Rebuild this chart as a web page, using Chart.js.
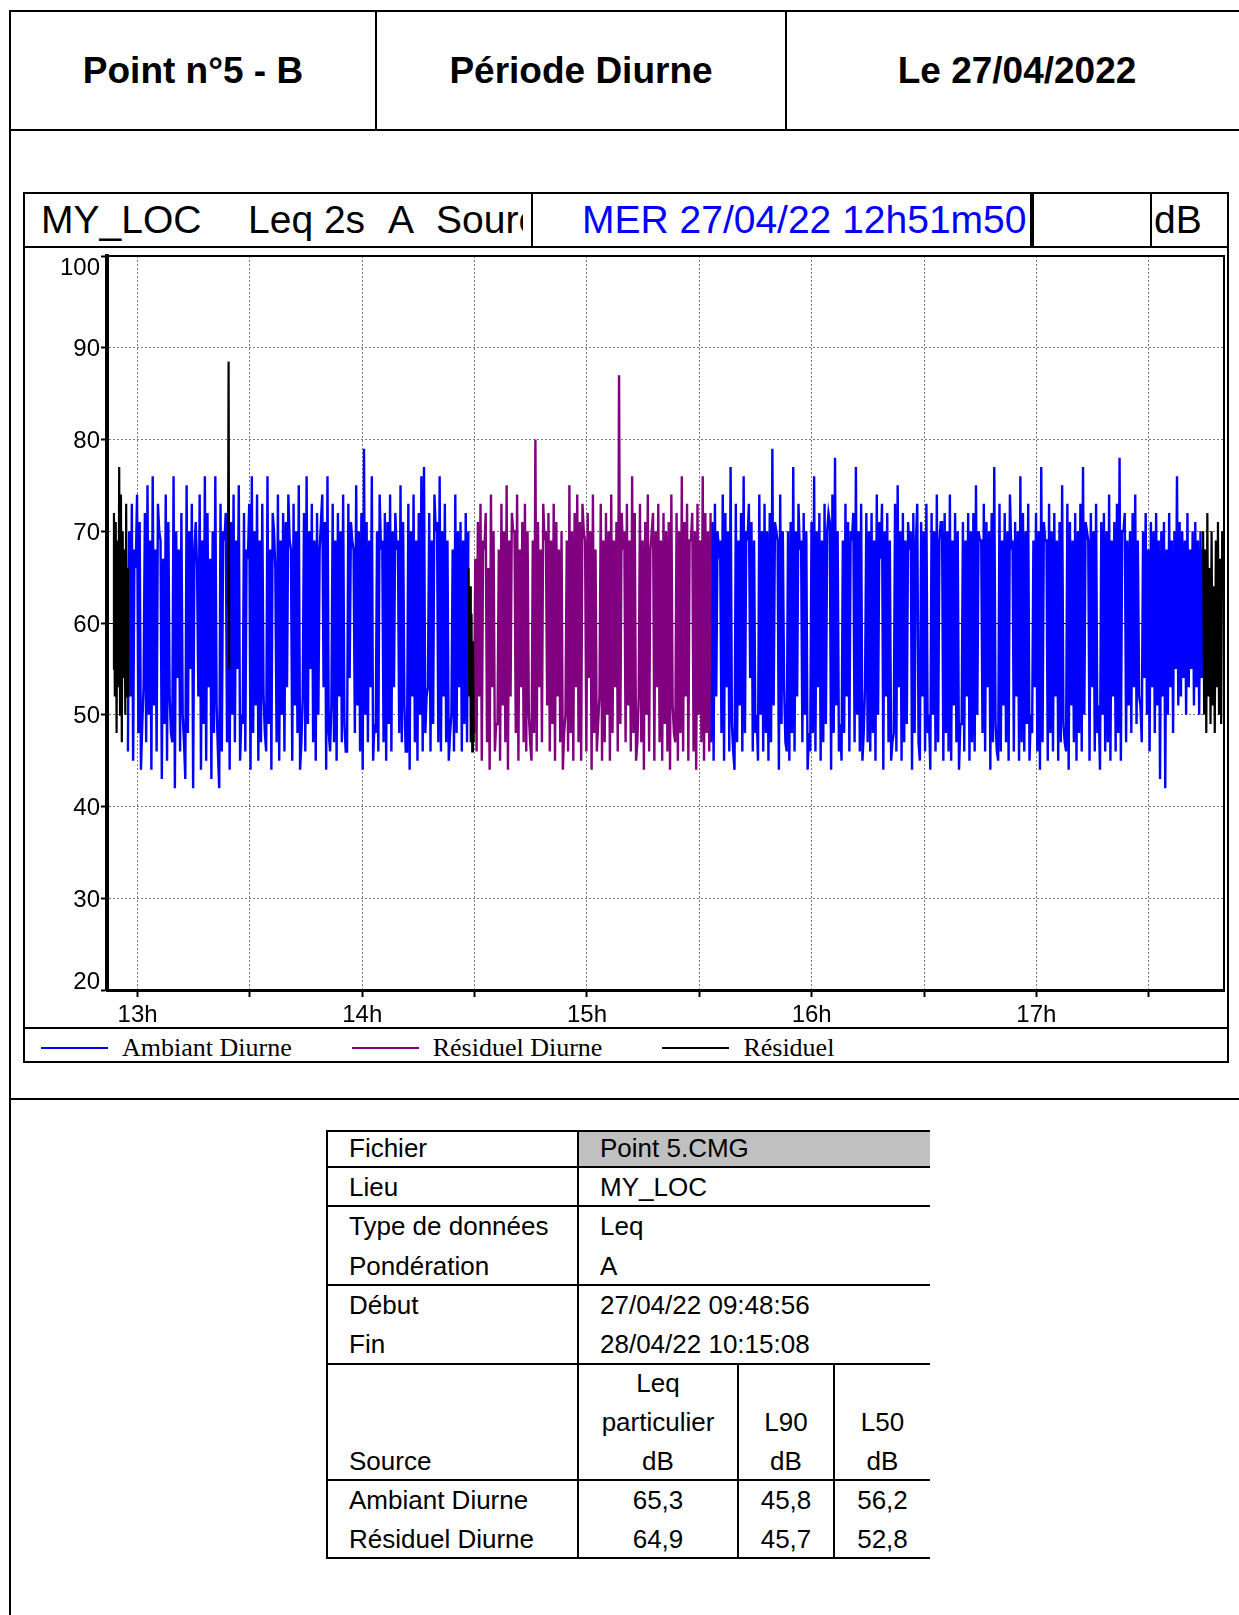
<!DOCTYPE html>
<html lang="fr">
<head>
<meta charset="UTF-8">
<title>Point n°5 - B · Période Diurne · Le 27/04/2022</title>
<script src="https://cdn.jsdelivr.net/npm/chart.js@4"></script>
<style>
  * { box-sizing: border-box; margin: 0; padding: 0; }
  html, body { width: 1239px; height: 1615px; overflow: hidden; background: #fff; }
  body { position: relative; font-family: "Liberation Sans", Arial, sans-serif; color: #000; }
  .ln { position: absolute; background: #000; }
  .head { position: absolute; top: 12px; height: 118px; line-height: 118px; text-align: center; font-weight: bold; font-size: 37px; white-space: nowrap; }
  #box { position: absolute; left: 23px; top: 192px; width: 1206px; height: 871px; border: 2px solid #000; }
  .cellbox { position: absolute; top: 192px; height: 56px; border: 2px solid #000; }
  .ttl { position: absolute; top: 194px; height: 52px; line-height: 52px; font-size: 39px; white-space: nowrap; }
  #clip1 { position: absolute; left: 25px; top: 194px; width: 498px; height: 52px; overflow: hidden; }
  #clip1 .ttl { top: 0; }
  #plot { position: absolute; left: 24px; top: 248px; }
  #legend { position: absolute; left: 41px; top: 1032px; height: 32px; display: flex; align-items: center; gap: 60px;
            font-family: "Liberation Serif", "Times New Roman", serif; font-size: 26px; }
  #legend .item { display: flex; align-items: center; gap: 14px; }
  #legend .swatch { display: inline-block; width: 67px; height: 2px; }
  .tc { position: absolute; height: 40px; line-height: 40px; font-size: 26px; white-space: nowrap; }
  .ctr { text-align: center; }
</style>
</head>
<body>

<!-- page frame -->
<div class="ln" style="left:9px;top:10px;width:2px;height:1605px"></div>
<div class="ln" style="left:9px;top:10px;width:1230px;height:2px"></div>
<div class="ln" style="left:9px;top:129px;width:1230px;height:2px"></div>
<div class="ln" style="left:9px;top:1098px;width:1230px;height:2px"></div>
<div class="ln" style="left:375px;top:10px;width:2px;height:121px"></div>
<div class="ln" style="left:785px;top:10px;width:2px;height:121px"></div>

<div class="head" style="left:11px;width:364px">Point n°5 - B</div>
<div class="head" style="left:377px;width:408px">Période Diurne</div>
<div class="head" style="left:787px;width:460px">Le 27/04/2022</div>

<!-- chart frame and title bar -->
<div id="box"></div>
<div class="ln" style="left:23px;top:246px;width:1206px;height:2px"></div>
<div id="clip1">
  <div class="ttl" style="left:16px">MY_LOC</div>
  <div class="ttl" style="left:223px">Leq 2s</div>
  <div class="ttl" style="left:363px">A</div>
  <div class="ttl" style="left:411px">Source</div>
</div>
<div class="cellbox" style="left:531px;width:501px;overflow:hidden">
  <div class="ttl" style="top:0;left:49px;color:#0000ff">MER 27/04/22 12h51m50</div>
</div>
<div class="cellbox" style="left:1032px;width:120px"></div>
<div class="ttl" style="left:1154px">dB</div>

<canvas id="plot" width="1204" height="780"></canvas>

<div class="ln" style="left:23px;top:1027px;width:1206px;height:2px"></div>
<div id="legend"></div>

<!-- info table -->
<div style="position:absolute;left:578px;top:1131px;width:352px;height:36px;background:#c0c0c0"></div>
<div class="ln" style="left:326px;top:1130px;width:604px;height:2px"></div>
<div class="ln" style="left:326px;top:1166px;width:604px;height:2px"></div>
<div class="ln" style="left:326px;top:1205px;width:604px;height:2px"></div>
<div class="ln" style="left:326px;top:1284px;width:604px;height:2px"></div>
<div class="ln" style="left:326px;top:1363px;width:604px;height:2px"></div>
<div class="ln" style="left:326px;top:1479px;width:604px;height:2px"></div>
<div class="ln" style="left:326px;top:1557px;width:604px;height:2px"></div>
<div class="ln" style="left:326px;top:1130px;width:2px;height:429px"></div>
<div class="ln" style="left:577px;top:1130px;width:2px;height:429px"></div>
<div class="ln" style="left:737px;top:1363px;width:2px;height:196px"></div>
<div class="ln" style="left:833px;top:1363px;width:2px;height:196px"></div>

<div class="tc" style="left:349px;top:1128px">Fichier</div>
<div class="tc" style="left:600px;top:1128px">Point 5.CMG</div>
<div class="tc" style="left:349px;top:1167px">Lieu</div>
<div class="tc" style="left:600px;top:1167px">MY_LOC</div>
<div class="tc" style="left:349px;top:1206px">Type de données</div>
<div class="tc" style="left:600px;top:1206px">Leq</div>
<div class="tc" style="left:349px;top:1246px">Pondération</div>
<div class="tc" style="left:600px;top:1246px">A</div>
<div class="tc" style="left:349px;top:1285px">Début</div>
<div class="tc" style="left:600px;top:1285px">27/04/22 09:48:56</div>
<div class="tc" style="left:349px;top:1324px">Fin</div>
<div class="tc" style="left:600px;top:1324px">28/04/22 10:15:08</div>

<div class="tc ctr" style="left:579px;width:158px;top:1363px">Leq</div>
<div class="tc ctr" style="left:579px;width:158px;top:1402px">particulier</div>
<div class="tc ctr" style="left:579px;width:158px;top:1441px">dB</div>
<div class="tc" style="left:349px;top:1441px">Source</div>
<div class="tc ctr" style="left:739px;width:94px;top:1402px">L90</div>
<div class="tc ctr" style="left:739px;width:94px;top:1441px">dB</div>
<div class="tc ctr" style="left:835px;width:95px;top:1402px">L50</div>
<div class="tc ctr" style="left:835px;width:95px;top:1441px">dB</div>

<div class="tc" style="left:349px;top:1480px">Ambiant Diurne</div>
<div class="tc ctr" style="left:579px;width:158px;top:1480px">65,3</div>
<div class="tc ctr" style="left:739px;width:94px;top:1480px">45,8</div>
<div class="tc ctr" style="left:835px;width:95px;top:1480px">56,2</div>
<div class="tc" style="left:349px;top:1519px">Résiduel Diurne</div>
<div class="tc ctr" style="left:579px;width:158px;top:1519px">64,9</div>
<div class="tc ctr" style="left:739px;width:94px;top:1519px">45,7</div>
<div class="tc ctr" style="left:835px;width:95px;top:1519px">52,8</div>

<script>
// ---------- Axes ----------
const X_MIN = 12.86389;   // 12h51m50, in decimal hours
const X_MAX = 17.835;
const xTickValues = [13, 13.5, 14, 14.5, 15, 15.5, 16, 16.5, 17, 17.5];
const xTickLabels = ['13h', '', '14h', '', '15h', '', '16h', '', '17h', ''];
const yTickValues = [20, 30, 40, 50, 60, 70, 80, 90, 100];
// end labels are pulled inside the plot, as on the original
const yTickLabels = [['20', ''], '30', '40', '50', '60', '70', '80', '90', ['', '100']];

// ---------- Leq 2s, dB(A) (start/end hour of each block) ----------
const ambiantSpanA = [12.957, 14.472];
const ambiantA = [
  46,70,52,73,45,68,66,74,48,71,44,49,53,72,47,75,50,69,44,76,
  51,68,46,73,70,69,43,67,49,74,45,71,52,48,47,76,42,70,54,68,
  46,72,50,47,43,75,48,70,55,73,42,68,71,66,52,74,44,69,49,76,
  45,72,53,67,43,70,48,76,51,46,42,73,46,70,69,72,47,72,44,71,
  50,74,47,69,55,75,45,50,49,72,46,68,67,73,44,76,48,70,51,74,
  45,69,47,73,52,48,46,76,49,68,44,72,70,66,47,74,45,69,50,72,
  46,71,53,74,69,68,45,73,51,70,48,75,44,47,52,72,46,76,49,70,
  55,73,47,69,45,72,50,68,71,74,53,71,44,76,48,46,51,73,47,69,
  45,72,52,70,47,74,49,46,46,73,54,71,69,68,48,75,51,70,46,72,
  44,79,50,71,47,69,53,76,45,49,48,70,46,74,68,69,47,72,45,71,
  49,74,46,70,53,72,68,69,48,75,47,71,51,46,46,73,44,70,52,74,
  47,69,45,72,50,76,46,77,48,52,53,72,46,69,49,74,70,71,47,76,
  46,70,52,73,47,69,45,48,50,68,46,74,48,70,53,71,46,69,49,72,47,70
];
const ambiantSpanB = [15.552, 17.742];
const ambiantB = [
  47,71,45,73,52,70,68,69,48,74,45,72,53,70,46,77,49,46,44,73,
  47,69,51,72,46,76,48,70,69,73,54,71,46,69,48,50,45,74,50,70,
  46,73,48,70,45,72,47,79,51,71,70,69,44,74,49,70,53,47,46,70,
  45,71,48,77,46,70,52,73,68,69,47,72,50,70,44,48,46,71,48,76,
  46,70,53,72,45,69,47,73,49,70,72,71,44,74,48,78,51,70,46,49,
  45,69,48,73,52,71,46,70,69,72,47,77,50,70,46,73,45,48,53,72,
  47,70,46,72,48,69,45,74,50,71,67,73,44,70,52,72,47,69,45,47,
  48,73,46,75,53,70,45,72,47,69,49,71,68,70,44,72,48,69,73,47,
  45,71,52,70,46,73,48,50,44,72,50,70,46,74,47,69,71,71,45,72,
  48,70,46,74,45,69,51,72,47,70,44,49,49,71,46,69,52,72,45,70,
  47,72,46,75,50,70,69,69,48,73,46,71,53,70,44,72,47,77,49,46,
  45,73,46,69,51,72,47,70,45,74,68,69,46,71,52,70,45,76,47,72,
  46,70,49,73,45,50,48,69,53,72,46,70,44,77,47,71,69,69,45,73,
  48,70,46,72,52,69,45,71,47,75,49,47,46,73,44,71,51,69,47,72,
  45,70,48,73,46,77,50,71,70,69,45,72,53,70,46,73,48,51,44,71,
  50,72,46,70,47,74,45,69,52,71,46,73,48,78,45,70,70,72,47,69,
  51,70,48,72,53,74,49,69,52,51,47,70,54,72,50,68,46,71,53,70,
  48,72,51,69,43,70,52,71,42,68,50,72,53,69,48,70,55,76,51,71,
  52,70,54,69,50,72,53,68,55,70,51,71,53,69,50,70,54,68
];
const diurneSpan = [14.497, 15.550];
const residuelDiurne = [
  48,67,46,71,52,73,45,69,68,72,47,66,44,74,53,70,46,49,49,68,
  45,73,51,70,47,75,44,69,52,72,70,70,48,74,45,68,53,71,47,73,
  46,70,50,47,45,69,48,80,46,71,53,68,47,73,69,70,51,72,46,69,
  49,73,45,71,52,68,47,70,44,48,50,69,46,75,48,70,45,72,53,74,
  47,71,45,73,70,69,46,72,54,70,44,74,48,68,46,49,52,73,45,69,
  47,72,50,70,45,74,48,69,53,71,46,87,49,72,68,70,47,73,51,69,
  46,76,48,72,45,47,52,73,47,69,44,71,50,74,46,68,70,72,45,70,
  53,73,47,69,45,72,49,70,46,71,44,74,51,48,47,72,45,70,48,76,
  46,71,52,73,45,69,69,72,46,70,44,73,50,69,47,76,45,72,48,70,46,72
];
const residuelSpan1 = [12.891, 12.957];
const residuel1 = [55,72,52,71,48,69,53,77,50,74,47,70,54,68,50,73,52,66];
const residuelSpan2 = [13.402, 13.408];
const residuel2 = [62, 88.5, 55];
const residuelSpan3 = [14.473, 14.496];
const residuel3 = [66,52,64,47,61,46,58,47];
const residuelSpan4 = [17.742, 17.827];
const residuel4 = [70,50,68,48,72,52,66,49,70,51,64,48,69,53,71,50,67,49,70];

// ---------- Series builders ----------
function toPoints(span, values) {
  const step = (span[1] - span[0]) / (values.length - 1);
  return values.map((v, i) => ({ x: span[0] + i * step, y: v }));
}
const gap = t => ({ x: t, y: null });

const ambiantData = [...toPoints(ambiantSpanA, ambiantA), gap(15.0), ...toPoints(ambiantSpanB, ambiantB)];
const diurneData = toPoints(diurneSpan, residuelDiurne);
const residuelData = [
  ...toPoints(residuelSpan1, residuel1), gap(13.2),
  ...toPoints(residuelSpan2, residuel2), gap(14.0),
  ...toPoints(residuelSpan3, residuel3), gap(16.0),
  ...toPoints(residuelSpan4, residuel4),
];

// top and right edge of the plot area
const plotFrame = {
  id: 'plotFrame',
  afterDatasetsDraw(chart) {
    const { ctx, chartArea: a } = chart;
    ctx.save();
    ctx.strokeStyle = '#000';
    ctx.lineWidth = 2;
    ctx.beginPath();
    ctx.moveTo(a.left, a.top);
    ctx.lineTo(a.right, a.top);
    ctx.lineTo(a.right, a.bottom);
    ctx.stroke();
    ctx.restore();
  }
};

const isMain = c => c.tick && c.tick.value === 60;

const chart = new Chart(document.getElementById('plot'), {
  type: 'line',
  data: {
    datasets: [
      { label: 'Ambiant Diurne',  data: ambiantData,  borderColor: '#0000ff', borderWidth: 2.4, order: 2 },
      { label: 'Résiduel Diurne', data: diurneData,   borderColor: '#800080', borderWidth: 2.4, order: 1 },
      { label: 'Résiduel',        data: residuelData, borderColor: '#000000', borderWidth: 2.2, order: 0 },
    ],
  },
  options: {
    responsive: false,
    animation: false,
    events: [],
    spanGaps: false,
    layout: { padding: { left: 0, top: 8, right: 4, bottom: 0 } },
    elements: { point: { radius: 0 }, line: { tension: 0 } },
    plugins: { legend: { display: false }, tooltip: { enabled: false } },
    scales: {
      x: {
        type: 'linear', min: X_MIN, max: X_MAX,
        afterBuildTicks: s => { s.ticks = xTickValues.map(value => ({ value })); },
        afterFit: s => { s.height = 38; s.paddingLeft = 0; s.paddingRight = 0; },
        ticks: { autoSkip: false, maxRotation: 0, padding: 4, color: '#000',
                 font: { family: 'Liberation Sans', size: 24 },
                 callback: (v, i) => xTickLabels[i] },
        grid: { color: '#7a7a7a', lineWidth: 1, tickLength: 7, tickColor: '#000', tickWidth: 2 },
        border: { color: '#000', width: 3, dash: [2, 2] },
      },
      y: {
        min: 20, max: 100,
        afterBuildTicks: s => { s.ticks = yTickValues.map(value => ({ value })); },
        afterFit: s => { s.width = 83; s.paddingTop = 0; s.paddingBottom = 0; },
        ticks: { padding: 1, labelOffset: 2, color: '#000',
                 font: c => ({ family: 'Liberation Sans', size: 24,
                               lineHeight: Array.isArray(yTickLabels[c.index]) ? '20px' : 1.2 }),
                 callback: (v, i) => yTickLabels[i] },
        grid: { color: c => isMain(c) ? '#000' : '#7a7a7a', lineWidth: 1, tickLength: 6, tickColor: '#000', tickWidth: 2 },
        border: { color: '#000', width: 4, dash: c => isMain(c) ? [] : [2, 2] },
      },
    },
  },
  plugins: [plotFrame],
});

// legend row, from the datasets
const legend = document.getElementById('legend');
chart.data.datasets.forEach(ds => {
  const item = document.createElement('div');
  item.className = 'item';
  item.innerHTML = `<span class="swatch" style="background:${ds.borderColor}"></span><span>${ds.label}</span>`;
  legend.appendChild(item);
});
</script>
</body>
</html>
